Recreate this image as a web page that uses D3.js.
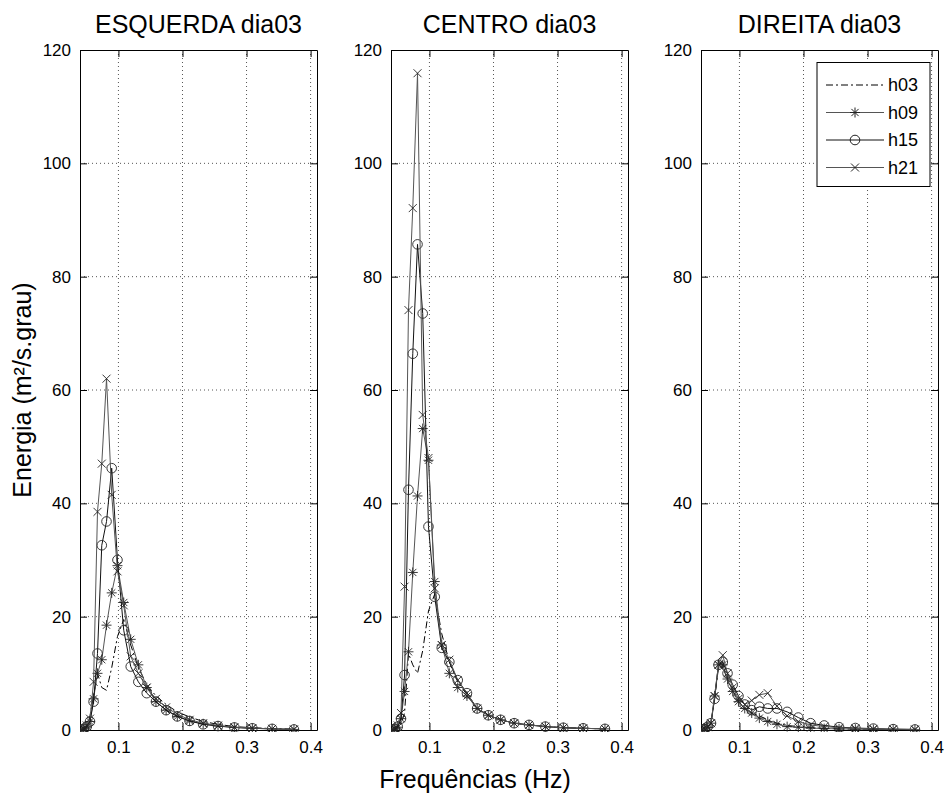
<!DOCTYPE html>
<html>
<head>
<meta charset="utf-8">
<script src="https://cdn.jsdelivr.net/npm/d3@7"></script>
<style>
  body { margin: 0; background: #fff; }
  text { font-family: "Liberation Sans", Arial, sans-serif; fill: #000; }
</style>
</head>
<body>
<div id="chart"></div>
<script>
// frequencies (Hz)
const freqs = [0.0418, 0.0459, 0.0505, 0.0556, 0.0612, 0.0673, 0.0740, 0.0814, 0.0895, 0.0985,
               0.1083, 0.1192, 0.1311, 0.1442, 0.1586, 0.1745, 0.1919, 0.2111, 0.2323, 0.2555,
               0.2810, 0.3091, 0.3400, 0.3740];

const seriesNames = ['h03', 'h09', 'h15', 'h21'];
const panelTitles = ['ESQUERDA dia03', 'CENTRO dia03', 'DIREITA dia03'];
const xTicks = [0.1, 0.2, 0.3, 0.4];
const yTicks = [0, 20, 40, 60, 80, 100, 120];

// ESQUERDA
const esq_h03 = [0.05, 0.1, 0.4, 2.5, 6, 10, 7.5, 7, 11, 16.5, 19.5, 15, 11, 8, 6, 4.5, 3.2, 2.3, 1.5, 1.0, 0.6, 0.4, 0.25, 0.15];
const esq_h09 = [0.05, 0.2, 0.5, 1.5, 5.5, 10, 12.4, 18.5, 24.2, 29, 22.5, 16, 11.5, 7.5, 5, 3.5, 2.4, 1.6, 1.1, 0.7, 0.45, 0.3, 0.2, 0.1];
const esq_h15 = [0.05, 0.2, 0.6, 1.5, 5, 13.5, 32.6, 36.8, 46.2, 30, 17.6, 11.2, 8.5, 6.5, 5, 3.5, 2.4, 1.6, 1.0, 0.7, 0.45, 0.3, 0.2, 0.1];
const esq_h21 = [0.05, 0.3, 0.8, 2, 8.5, 38.5, 47, 62, 41.5, 28, 22, 13, 10, 7.5, 5.5, 4, 2.8, 1.8, 1.2, 0.8, 0.5, 0.35, 0.2, 0.1];

// CENTRO
const cen_h03 = [0.05, 0.1, 0.4, 1, 3, 13.5, 11.5, 10, 14, 21, 24, 17, 12, 8.5, 6.2, 3.8, 2.6, 1.8, 1.2, 0.9, 0.6, 0.4, 0.3, 0.2];
const cen_h09 = [0.05, 0.2, 0.5, 2, 6.8, 13.8, 27.8, 41.3, 53.2, 47.6, 26.2, 15, 10, 7.5, 6, 3.8, 2.6, 1.8, 1.2, 0.9, 0.6, 0.4, 0.3, 0.2];
const cen_h15 = [0.05, 0.2, 0.6, 2, 9.7, 42.4, 66.4, 85.7, 73.5, 35.9, 23.5, 14.5, 12, 8.8, 6.5, 3.8, 2.6, 1.8, 1.2, 0.9, 0.6, 0.4, 0.3, 0.2];
const cen_h21 = [0.05, 0.3, 0.8, 3, 25.3, 74.1, 92.1, 115.9, 55.6, 48, 25, 15, 12.4, 8.8, 6.5, 3.8, 2.6, 1.8, 1.2, 0.9, 0.6, 0.4, 0.3, 0.2];

// DIREITA
const dir_h03 = [0.05, 0.2, 0.5, 1.2, 5.5, 11, 11, 9, 7, 5, 3.8, 3, 2.5, 1.8, 1.2, 0.8, 0.6, 0.4, 0.3, 0.2, 0.15, 0.1, 0.1, 0.05];
const dir_h09 = [0.05, 0.2, 0.5, 1.2, 6, 11.5, 11.5, 9, 6.8, 5, 3.8, 3, 2.1, 1.5, 1.0, 0.6, 0.5, 0.35, 0.25, 0.2, 0.15, 0.1, 0.1, 0.05];
const dir_h15 = [0.05, 0.2, 0.6, 1.2, 5.5, 11.5, 12, 10, 8, 6, 4.5, 3.5, 4.1, 3.8, 3.8, 3.2, 2.2, 1.2, 0.8, 0.5, 0.35, 0.25, 0.15, 0.1];
const dir_h21 = [0.05, 0.2, 0.5, 1.2, 6, 11.5, 13.2, 10, 7.5, 5.5, 4.5, 5.2, 6.2, 6.5, 4.2, 2.5, 1.5, 0.9, 0.6, 0.4, 0.3, 0.2, 0.15, 0.1];

const panelData = [
    [esq_h03, esq_h09, esq_h15, esq_h21],
    [cen_h03, cen_h09, cen_h15, cen_h21],
    [dir_h03, dir_h09, dir_h15, dir_h21]
];

// style per series: h03 dash-dot, h09 '*', h15 'o', h21 'x'
const seriesStyle = [
    { dash: '7,3,2,3', marker: null, color: '#000' },
    { dash: null, marker: 'star', color: '#555' },
    { dash: null, marker: 'circle', color: '#111' },
    { dash: null, marker: 'cross', color: '#555' }
];

const width = 948, height = 796;
const panelLefts = [80, 391, 701];
const panelWidth = 237;
const plotTop = 50, plotBottom = 730;
const tickLen = 7;

const svg = d3.select('#chart').append('svg')
    .attr('width', width)
    .attr('height', height);

const y = d3.scaleLinear().domain([0, 120]).range([plotBottom, plotTop]);

// marker path at (0,0)
function markerPath(type) {
    const p = d3.path();
    if (type === 'circle') {
        p.moveTo(4.8, 0);
        p.arc(0, 0, 4.8, 0, 2 * Math.PI);
    } else if (type === 'cross') {
        const s = 4;
        p.moveTo(-s, -s); p.lineTo(s, s);
        p.moveTo(-s, s); p.lineTo(s, -s);
    } else if (type === 'star') {
        const s = 5, d = 3.6;
        p.moveTo(-s, 0); p.lineTo(s, 0);
        p.moveTo(0, -s); p.lineTo(0, s);
        p.moveTo(-d, -d); p.lineTo(d, d);
        p.moveTo(-d, d); p.lineTo(d, -d);
    }
    return p.toString();
}

function drawPanel(idx) {
    const left = panelLefts[idx];
    const x = d3.scaleLinear().domain([0.04, 0.41]).range([left, left + panelWidth]);
    const g = svg.append('g');

    // clip for data
    svg.append('clipPath').attr('id', 'clip' + idx)
       .append('rect')
       .attr('x', left).attr('y', plotTop - 2)
       .attr('width', panelWidth).attr('height', plotBottom - plotTop + 4);

    // dotted grid
    g.selectAll('.vgrid')
     .data(xTicks)
     .enter().append('line')
     .attr('x1', d => x(d)).attr('x2', d => x(d))
     .attr('y1', plotTop).attr('y2', plotBottom)
     .attr('stroke', '#555').attr('stroke-width', 1)
     .attr('stroke-dasharray', '1,3');
    g.selectAll('.hgrid')
     .data(yTicks.filter(d => d > 0 && d < 120))
     .enter().append('line')
     .attr('x1', left).attr('x2', left + panelWidth)
     .attr('y1', d => y(d)).attr('y2', d => y(d))
     .attr('stroke', '#555').attr('stroke-width', 1)
     .attr('stroke-dasharray', '1,3');

    // axes with inward ticks (bottom, top, left, right)
    const xb = g.append('g').attr('transform', `translate(0,${plotBottom})`)
        .call(d3.axisBottom(x).tickValues(xTicks).tickSizeInner(-tickLen).tickSizeOuter(0).tickPadding(11).tickFormat(d3.format('.1f')));
    const xt = g.append('g').attr('transform', `translate(0,${plotTop})`)
        .call(d3.axisTop(x).tickValues(xTicks).tickSizeInner(-tickLen).tickSizeOuter(0).tickFormat(''));
    const yl = g.append('g').attr('transform', `translate(${left},0)`)
        .call(d3.axisLeft(y).tickValues(yTicks).tickSizeInner(-tickLen).tickSizeOuter(0).tickPadding(9));
    const yr = g.append('g').attr('transform', `translate(${left + panelWidth},0)`)
        .call(d3.axisRight(y).tickValues(yTicks).tickSizeInner(-tickLen).tickSizeOuter(0).tickFormat(''));

    [xb, xt, yl, yr].forEach(a => {
        a.select('.domain').attr('stroke', '#000');
        a.selectAll('.tick line').attr('stroke', '#000');
        a.selectAll('text').style('font-size', '17px').attr('fill', '#000');
    });

    // title
    svg.append('text')
       .attr('x', left + panelWidth / 2)
       .attr('y', 33)
       .attr('text-anchor', 'middle')
       .style('font-size', '25px')
       .text(panelTitles[idx]);

    // data series
    const line = d3.line().x((d, i) => x(freqs[i])).y(d => y(d));
    const data = panelData[idx];
    const plot = svg.append('g').attr('clip-path', `url(#clip${idx})`);

    data.forEach((vals, s) => {
        const st = seriesStyle[s];
        plot.append('path')
            .datum(vals)
            .attr('d', line)
            .attr('fill', 'none')
            .attr('stroke', st.color)
            .attr('stroke-width', 1)
            .attr('stroke-dasharray', st.dash);

        if (st.marker) {
            plot.selectAll('.m' + s)
                .data(vals)
                .enter().append('path')
                .attr('class', 'm' + s)
                .attr('transform', (d, i) => `translate(${x(freqs[i])},${y(d)})`)
                .attr('d', markerPath(st.marker))
                .attr('fill', 'none')
                .attr('stroke', '#222')
                .attr('stroke-width', 0.9);
        }
    });
}

for (let i = 0; i < 3; i++) drawPanel(i);

// legend in the right panel
const lg = svg.append('g');
lg.append('rect')
  .attr('x', 817).attr('y', 62.5)
  .attr('width', 113).attr('height', 124)
  .attr('fill', '#fff').attr('stroke', '#000');

seriesNames.forEach((name, s) => {
    const ly = 85 + s * 27.5;
    const st = seriesStyle[s];
    lg.append('line')
      .attr('x1', 826).attr('x2', 884)
      .attr('y1', ly).attr('y2', ly)
      .attr('stroke', st.color)
      .attr('stroke-dasharray', st.dash);
    if (st.marker) {
        lg.append('path')
          .attr('transform', `translate(855,${ly})`)
          .attr('d', markerPath(st.marker))
          .attr('fill', 'none')
          .attr('stroke', '#222');
    }
    lg.append('text')
      .attr('x', 888).attr('y', ly + 6)
      .style('font-size', '18px')
      .text(name);
});

// axis labels
svg.append('text')
   .attr('x', 475).attr('y', 788)
   .attr('text-anchor', 'middle')
   .style('font-size', '25px')
   .text('Frequências (Hz)');

svg.append('text')
   .attr('transform', 'translate(31,390) rotate(-90)')
   .attr('text-anchor', 'middle')
   .style('font-size', '25px')
   .text('Energia (m²/s.grau)');
</script>
</body>
</html>
